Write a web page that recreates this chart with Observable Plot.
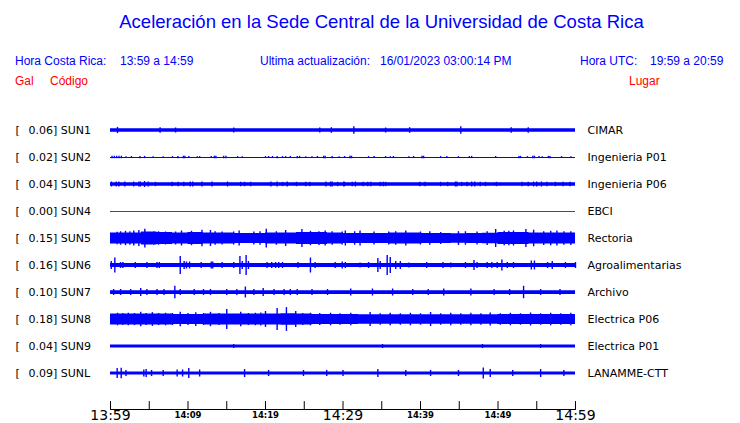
<!DOCTYPE html>
<html><head><meta charset="utf-8">
<script src="https://cdn.jsdelivr.net/npm/d3@7"></script>
<script src="https://cdn.jsdelivr.net/npm/@observablehq/plot@0.6"></script>
<style>
body{margin:0;background:#fff;width:740px;height:423px;overflow:hidden;font-family:"Liberation Sans",Arial,sans-serif}
#hdr{position:relative;height:100px;width:740px}
#hdr span{position:absolute;white-space:pre;font-size:12px;line-height:14px;color:#0000ff}
#hdr .red{color:#ff0000}
#hdr .title{font-size:18.5px;line-height:20px;left:0;width:763px;text-align:center;top:12px}
</style></head>
<body>
<div id="hdr">
<span class="title">Aceleración en la Sede Central de la Universidad de Costa Rica</span>
<span style="left:15px;top:54px">Hora Costa Rica:</span>
<span style="left:120px;top:54px">13:59 a 14:59</span>
<span style="left:260px;top:54px">Ultima actualización:</span>
<span style="left:380px;top:54px">16/01/2023 03:00:14 PM</span>
<span style="left:580px;top:54px">Hora UTC:</span>
<span style="left:650px;top:54px">19:59 a 20:59</span>
<span class="red" style="left:15px;top:74px">Gal</span>
<span class="red" style="left:50px;top:74px">Código</span>
<span class="red" style="left:629px;top:74px">Lugar</span>
</div>
<div id="chart"></div>
<script>
// ---- data ----
const codes = ["SUN1","SUN2","SUN3","SUN4","SUN5","SUN6","SUN7","SUN8","SUN9","SUNL"];
const places = ["CIMAR","Ingenieria P01","Ingenieria P06","EBCI","Rectoria","Agroalimentarias","Archivo","Electrica P06","Electrica P01","LANAMME-CTT"];
const maxGal = ["0.06","0.02","0.04","0.00","0.15","0.16","0.10","0.18","0.04","0.09"];
// typical (background) half amplitude of each trace, Gal
const baseAmp = [0.027,0,0.027,0,0.08,0.032,0.03,0.072,0.024,0.024];
// envelope every 2 minutes for the noisier traces (Gal)
const envMinutes = [0,2,4,6,8,10,12,14,16,18,20,22,24,26,28,30,32,34,36,38,40,42,44,46,48,50,52,54,56,58,60];
const envSUN5 = [0.088,0.088,0.104,0.096,0.088,0.096,0.088,0.088,0.08,0.08,0.088,0.088,0.096,0.096,0.088,0.08,0.08,0.08,0.088,0.088,0.08,0.08,0.076,0.08,0.084,0.096,0.096,0.088,0.088,0.088,0.088];
const envSUN8 = [0.088,0.088,0.088,0.088,0.08,0.08,0.088,0.088,0.088,0.088,0.088,0.092,0.088,0.08,0.08,0.08,0.076,0.076,0.076,0.076,0.076,0.076,0.076,0.076,0.076,0.08,0.08,0.08,0.08,0.08,0.08];
// spikes: [minute after 13:59, half amplitude in Gal]
const spikesSUN1 = [[0.9,0.05],[6.4,0.045],[8.4,0.04],[15.9,0.04],[27,0.04],[28.5,0.045],[31.4,0.06],[35.5,0.04],[38.6,0.045],[45.2,0.06],[51.7,0.045],[53.9,0.045]];
const spikesSUN2 = [[0.2,0.02],[0.5,0.02],[0.8,0.02],[1.1,0.02],[1.4,0.02],[2.0,0.014],[2.7,0.014],[3.8,0.018],[4.4,0.018],[5.5,0.014],[6.8,0.014],[8.0,0.014],[8.7,0.018],[9.4,0.02],[9.6,0.02],[10.1,0.016],[11.2,0.014],[11.5,0.014],[13.0,0.016],[13.4,0.02],[13.6,0.02],[14.6,0.02],[14.9,0.02],[16.4,0.014],[17.0,0.014],[20.0,0.014],[20.4,0.016],[20.9,0.016],[21.5,0.018],[22.2,0.014],[22.6,0.014],[23.2,0.016],[24.1,0.018],[24.4,0.018],[25.2,0.014],[26.0,0.014],[26.7,0.016],[27.5,0.02],[27.7,0.02],[28.6,0.018],[29.5,0.014],[30.2,0.016],[30.9,0.02],[31.1,0.02],[33.3,0.014],[34.0,0.016],[35.5,0.016],[36.1,0.014],[36.5,0.016],[38.5,0.014],[39.1,0.016],[40.2,0.02],[40.4,0.02],[42.6,0.014],[43.4,0.016],[44.9,0.014],[46.3,0.014],[46.6,0.018],[49.7,0.016],[52.7,0.018],[52.9,0.018],[53.8,0.014],[54.5,0.02],[54.7,0.02],[55.3,0.016],[55.7,0.014],[56.5,0.018],[56.7,0.018],[58.2,0.014],[59.4,0.014]];
const spikesSUN3 = [[0.13,0.04],[0.73,0.04],[1.08,0.04],[1.85,0.04],[3.0,0.04],[3.66,0.04],[3.87,0.04],[4.39,0.048],[4.86,0.04],[5.8,0.035],[7.96,0.035],[8.73,0.035],[9.46,0.035],[10.3,0.04],[10.6,0.04],[11.8,0.04],[13.1,0.04],[15.1,0.04],[16.8,0.035],[17.3,0.035],[18.1,0.035],[20.7,0.04],[21.5,0.04],[22.2,0.035],[22.8,0.04],[24.0,0.035],[25.2,0.035],[25.7,0.035],[27.8,0.04],[28.4,0.04],[28.6,0.04],[29.3,0.035],[30.1,0.04],[30.2,0.035],[31.2,0.035],[31.6,0.04],[32.6,0.035],[33.2,0.035],[33.6,0.035],[34.8,0.035],[35.2,0.035],[35.5,0.035],[39.9,0.035],[40.6,0.035],[42.6,0.035],[43.5,0.035],[44.5,0.04],[44.7,0.04],[45.3,0.035],[46.0,0.035],[46.6,0.04],[47.0,0.04],[47.7,0.035],[48.4,0.035],[49.8,0.035],[53.1,0.035],[53.9,0.035],[54.6,0.04],[55.0,0.04],[55.6,0.04],[56.3,0.035],[57.4,0.035],[58.4,0.035],[59.3,0.035]];
const spikesSUN4 = [];
const spikesSUN5 = [[0.86,0.1],[1.94,0.115],[3.0,0.12],[3.66,0.128],[4.43,0.15],[5.6,0.104],[7.1,0.104],[8.4,0.104],[9.16,0.12],[10.45,0.115],[11.8,0.133],[12.9,0.128],[14.4,0.104],[15.9,0.104],[16.6,0.12],[18.5,0.104],[20.1,0.15],[22.6,0.128],[24.7,0.145],[26.9,0.11],[27.7,0.12],[29.9,0.104],[30.3,0.12],[32.2,0.12],[34.0,0.104],[35.9,0.104],[38.1,0.12],[40.0,0.104],[42.6,0.096],[44.9,0.11],[47.3,0.104],[48.6,0.11],[49.7,0.144],[50.8,0.115],[52.0,0.12],[53.6,0.145],[54.6,0.133],[55.9,0.11],[57.6,0.12],[59.4,0.11],[1.3,0.108],[2.5,0.108],[6.2,0.108],[13.5,0.108],[19.3,0.108],[21.4,0.108],[25.8,0.115],[28.6,0.108],[31.5,0.108],[36.8,0.108],[41.2,0.108],[45.8,0.108],[51.4,0.115],[56.8,0.115],[58.5,0.108]];
const spikesSUN6 = [[0.1,0.064],[0.56,0.12],[1.3,0.048],[1.6,0.048],[3.2,0.048],[4.7,0.048],[6.0,0.048],[6.3,0.048],[9.0,0.144],[9.5,0.064],[9.8,0.056],[10.2,0.056],[11.7,0.048],[13.0,0.056],[13.2,0.056],[14.4,0.048],[15.9,0.048],[16.7,0.144],[17.0,0.064],[17.5,0.16],[17.8,0.064],[20.2,0.048],[20.8,0.048],[21.3,0.048],[21.7,0.048],[22.2,0.048],[24.2,0.048],[25.8,0.12],[26.4,0.048],[29.0,0.048],[29.9,0.056],[30.3,0.048],[32.2,0.04],[33.3,0.048],[34.5,0.112],[34.8,0.064],[35.7,0.16],[36.1,0.128],[36.8,0.064],[37.4,0.064],[38.5,0.04],[40.8,0.048],[42.9,0.048],[43.9,0.04],[45.8,0.048],[46.9,0.08],[47.3,0.048],[48.6,0.048],[49.2,0.048],[49.9,0.048],[50.5,0.088],[51.2,0.048],[52.0,0.048],[54.3,0.072],[54.7,0.072],[56.4,0.048],[57.0,0.064],[58.7,0.048],[60.0,0.048]];
const spikesSUN7 = [[0.4,0.048],[1.3,0.048],[2.6,0.048],[3.9,0.064],[4.7,0.048],[6.0,0.048],[6.9,0.048],[8.3,0.1],[9.0,0.048],[10.8,0.048],[12.0,0.048],[12.9,0.048],[15.0,0.048],[16.3,0.048],[17.4,0.088],[18.5,0.048],[19.7,0.064],[21.1,0.048],[22.4,0.048],[23.2,0.048],[24.1,0.048],[26.0,0.048],[28.0,0.048],[31.0,0.056],[33.8,0.056],[36.4,0.056],[39.0,0.048],[41.0,0.048],[43.0,0.056],[46.5,0.056],[49.5,0.048],[51.5,0.048],[53.3,0.1],[55.5,0.048],[58.0,0.048]];
const spikesSUN8 = [[0.9,0.1],[2.3,0.1],[3.9,0.115],[5.4,0.11],[7.1,0.1],[9.0,0.115],[11.0,0.11],[12.9,0.115],[15.0,0.16],[16.8,0.115],[18.7,0.1],[20.0,0.128],[21.5,0.176],[22.7,0.19],[23.9,0.128],[25.8,0.1],[28.4,0.1],[31.0,0.1],[33.5,0.112],[36.1,0.1],[38.7,0.1],[41.3,0.112],[43.9,0.1],[46.5,0.1],[49.0,0.104],[51.6,0.1],[54.2,0.104],[56.8,0.1],[59.4,0.1],[1.6,0.096],[3.1,0.096],[4.6,0.096],[6.2,0.096],[8.0,0.096],[10.0,0.096],[12.0,0.096],[14.0,0.096],[17.8,0.096],[19.4,0.104],[24.8,0.096],[27.0,0.096],[29.6,0.092],[34.8,0.092],[37.4,0.092],[40.0,0.092],[42.6,0.092],[45.2,0.092],[47.8,0.092],[50.3,0.092],[52.9,0.092],[55.5,0.092],[58.1,0.092]];
const spikesSUN9 = [[15.9,0.032],[35.1,0.032],[48.0,0.032],[55.5,0.032]];
const spikesSUNL = [[0.86,0.08],[1.38,0.085],[2.0,0.048],[4.3,0.056],[4.6,0.064],[5.3,0.048],[6.8,0.048],[8.6,0.056],[9.3,0.056],[10.1,0.08],[11.5,0.056],[17.3,0.064],[20.4,0.048],[24.9,0.048],[27.9,0.048],[30.0,0.048],[34.5,0.064],[38.1,0.048],[41.3,0.048],[44.9,0.048],[48.1,0.088],[49.0,0.064],[51.9,0.048],[55.5,0.064],[58.5,0.048]];
const tickMinutes = [0,5,10,15,20,25,30,35,40,45,50,55,60];
const majorTicks = [0,30,60];
const majorLabels = ["13:59","14:29","14:59"];
const minorTicks = [10,20,40,50];
const minorLabels = ["14:09","14:19","14:39","14:49"];

// ---- build tables ----
const spikes = [spikesSUN1,spikesSUN2,spikesSUN3,spikesSUN4,spikesSUN5,spikesSUN6,spikesSUN7,spikesSUN8,spikesSUN9,spikesSUNL];
const envelopes = {4: envSUN5, 7: envSUN8};
const rowGap = 0.432; // Gal between trace baselines
const blue = "#0000ff", red = "#ff0000";
const rows = codes.map((c, i) => ({i, code: c, place: places[i], max: maxGal[i], y: -i * rowGap, color: i === 3 ? red : blue}));

const bands = [];
rows.forEach(r => {
  const env = envelopes[r.i];
  if (env) env.forEach((a, k) => bands.push({code: r.code, m: envMinutes[k], lo: r.y - a, hi: r.y + a, color: r.color}));
  else if (baseAmp[r.i] > 0) [0, 60].forEach(m => bands.push({code: r.code, m, lo: r.y - baseAmp[r.i], hi: r.y + baseAmp[r.i], color: r.color}));
});
const spikeRows = [];
rows.forEach(r => spikes[r.i].forEach(([m, a]) => spikeRows.push({m, lo: r.y - a, hi: r.y + a, color: r.color})));

const chart = Plot.plot({
  width: 740, height: 323,
  marginLeft: 110, marginRight: 165, marginTop: 0, marginBottom: 14,
  x: {domain: [0, 60], axis: null},
  y: {domain: [-4.464, 0.48], axis: null},
  color: {type: "identity"},
  style: {fontFamily: "DejaVu Sans", background: "white"},
  marks: [
    Plot.ruleY(rows, {y: "y", stroke: "color", strokeWidth: 1}),
    Plot.areaY(bands, {x: "m", y1: "lo", y2: "hi", z: "code", fill: "color", curve: "step-after"}),
    Plot.ruleX(spikeRows, {x: "m", y1: "lo", y2: "hi", stroke: "color", strokeWidth: 1.4}),
    Plot.text(rows, {y: "y", text: () => "[", frameAnchor: "left", textAnchor: "start", dx: -95, fontSize: 11, fill: "black"}),
    Plot.text(rows, {y: "y", text: d => `${d.max}] ${d.code}`, frameAnchor: "left", textAnchor: "start", dx: -82, fontSize: 11, fill: "black"}),
    Plot.text(rows, {y: "y", text: "place", frameAnchor: "right", textAnchor: "start", dx: 12, fontSize: 11, fill: "black"}),
    Plot.ruleY([-4.464], {stroke: "black", strokeWidth: 1}),
    Plot.vector(tickMinutes, {x: d => d, frameAnchor: "bottom", length: 8, rotate: 0, anchor: "start", stroke: "black", strokeWidth: 1,
      shape: {draw(ctx, l) { ctx.moveTo(0, 0); ctx.lineTo(0, -l); }}}),
    Plot.text(majorTicks, {x: d => d, text: (d, k) => majorLabels[k], frameAnchor: "bottom", dy: 10, fontSize: 14, fill: "black"}),
    Plot.text(minorTicks, {x: d => d, text: (d, k) => minorLabels[k], frameAnchor: "bottom", dy: 8, fontSize: 8.5, fontWeight: "bold", fill: "black"})
  ]
});
document.getElementById("chart").appendChild(chart);
</script>
</body></html>
